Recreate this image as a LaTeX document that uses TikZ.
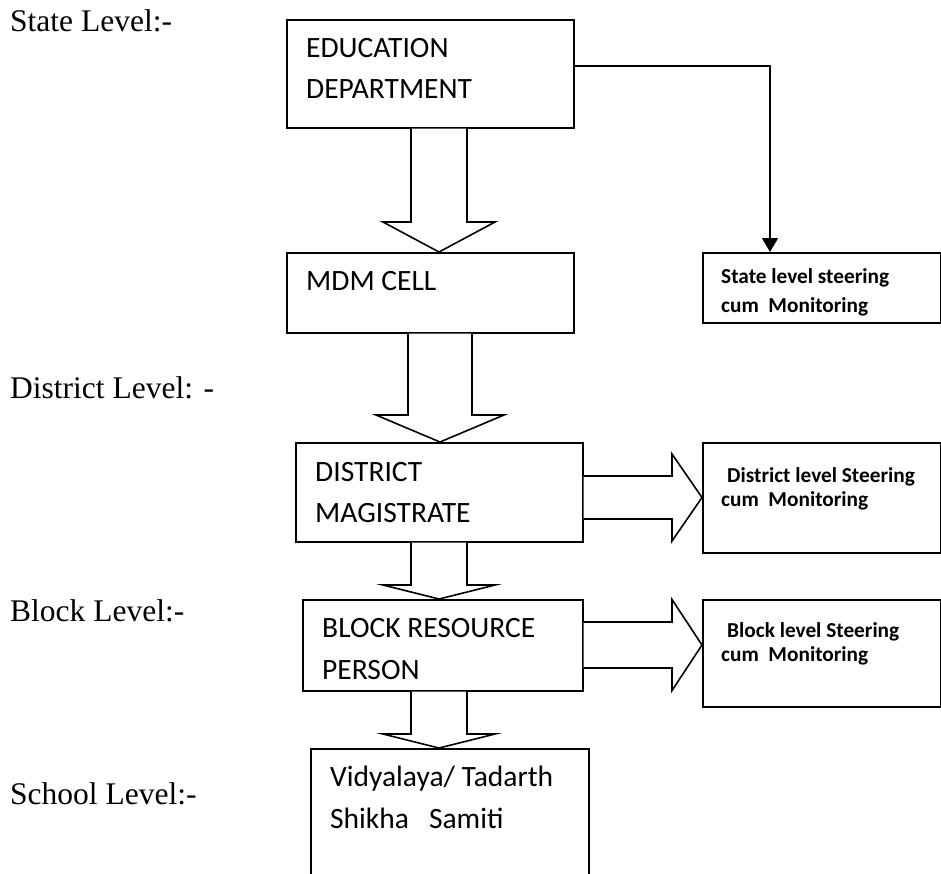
\documentclass[tikz,border=0pt]{standalone}
\usepackage{fontspec}
\setmainfont{Liberation Serif}
\newfontfamily\carl{Carlito}
\usetikzlibrary{calc,arrows.meta}
\tikzset{
  box/.style={draw, line width=1.6pt, rectangle, anchor=north west, inner sep=0pt},
  fat/.style={draw, line width=1.6pt, fill=white, line join=miter},
  thinarrow/.style={draw, line width=1.6pt, -{Triangle[length=14pt,width=16pt]}},
  btxt/.style={anchor=north west, inner sep=0pt, align=left, font=\carl\fontsize{29.5}{41}\selectfont},
  btxtb/.style={anchor=north west, inner sep=0pt, align=left, font=\carl\fontsize{29.5}{42}\selectfont},
  stxt/.style={anchor=north west, inner sep=0pt, align=left, font=\carl\bfseries\fontsize{21.3}{29}\selectfont},
  stxtb/.style={anchor=north west, inner sep=0pt, align=left, font=\carl\bfseries\fontsize{21.3}{24}\selectfont},
  lvl/.style={anchor=base west, inner sep=0pt, font=\fontsize{31.5}{36}\selectfont}
}
% fat downward arrow: source, target, centre x, shaft half width, wing half width, head length
\newcommand\fatdown[6]{%
  \draw[fat] let \p1=(#1.south), \p2=(#2.north) in
    (#3pt-#4pt,\y1) -- (#3pt-#4pt,\y2+#6pt) -- (#3pt-#5pt,\y2+#6pt) -- (#3pt,\y2)
    -- (#3pt+#5pt,\y2+#6pt) -- (#3pt+#4pt,\y2+#6pt) -- (#3pt+#4pt,\y1);}
% fat rightward arrow: source, target, centre y (downwards), shaft half width, wing half width, head length
\newcommand\fatright[6]{%
  \draw[fat] let \p1=(#1.east), \p2=(#2.west) in
    (\x1,-#3pt+#4pt) -- (\x2-#6pt,-#3pt+#4pt) -- (\x2-#6pt,-#3pt+#5pt) -- (\x2,-#3pt)
    -- (\x2-#6pt,-#3pt-#5pt) -- (\x2-#6pt,-#3pt-#4pt) -- (\x1,-#3pt-#4pt);}
\begin{document}
\begin{tikzpicture}[x=1pt,y=-1pt]
\useasboundingbox (0,0) rectangle (941,873);
\clip (0,0) rectangle (941,873);

% level labels
\node[lvl] (lstate) at (10,31) {State Level:-};
\node[lvl] (ldistrict) at (10,398) {District Level: -};
\node[lvl] (lblock) at (10,621) {Block Level:-};
\node[lvl] (lschool) at (10,804) {School Level:-};

% boxes
\node[box, minimum width=287pt, minimum height=108pt] (ed) at (286,19) {};
\node[box, minimum width=287pt, minimum height=80pt] (mdm) at (286,252) {};
\node[box, minimum width=238pt, minimum height=70pt] (state) at (702,252) {};
\node[box, minimum width=287pt, minimum height=99pt] (dm) at (295,442) {};
\node[box, minimum width=238pt, minimum height=110pt] (dsteer) at (702,442) {};
\node[box, minimum width=280pt, minimum height=91pt] (brp) at (302,599) {};
\node[box, minimum width=238pt, minimum height=107pt] (bsteer) at (702,599) {};
\node[box, minimum width=278pt, minimum height=200pt] (school) at (310,748) {};

% box texts
\node[btxt] (edt) at ($(ed.north west)+(20,9.3)$) {\strut EDUCATION\\DEPARTMENT};
\node[btxt] (mdmt) at ($(mdm.north west)+(20,9.3)$) {\strut MDM CELL};
\node[btxt] (dmt) at ($(dm.north west)+(20,10.3)$) {\strut DISTRICT\\MAGISTRATE};
\node[btxtb] (brpt) at ($(brp.north west)+(20,8.6)$) {\strut BLOCK RESOURCE\\PERSON};
\node[btxtb] (schoolt) at ($(school.north west)+(20,8.6)$) {\strut Vidyalaya/ Tadarth\\Shikha\ \ \ Samiti};
\node[stxt] (statet) at ($(state.north west)+(19,10.7)$) {\strut State level steering\\cum\ \ Monitoring};
\node[stxtb] (dsteert) at ($(dsteer.north west)+(19,23.2)$) {\strut\hspace*{6pt}District level Steering\\cum\ \ Monitoring};
\node[stxtb] (bsteert) at ($(bsteer.north west)+(19,21.2)$) {\strut\hspace*{6pt}Block level Steering\\cum\ \ Monitoring};

% connectors
\draw[thinarrow] ($(ed.north east)+(0,47)$) -| ($(state.north west)+(68,0)$);
\fatdown{ed}{mdm}{439}{28}{56}{30}
\fatdown{mdm}{dm}{440}{32}{64}{27}
\fatdown{dm}{brp}{439}{28}{56}{14}
\fatdown{brp}{school}{439}{28}{56}{14}
\fatright{dm}{dsteer}{497.5}{21.5}{43.5}{30}
\fatright{brp}{bsteer}{645}{23}{45.5}{30}
\end{tikzpicture}
\end{document}
